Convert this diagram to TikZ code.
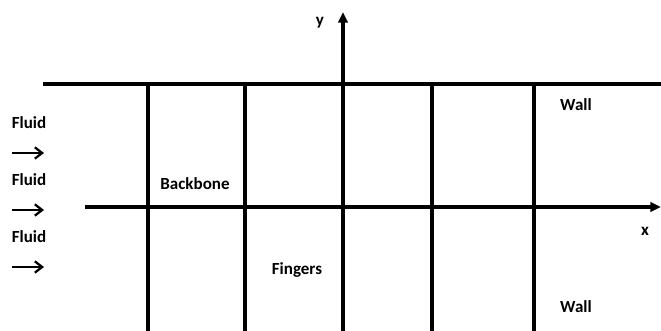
\documentclass[tikz,border=0pt]{standalone}
\usepackage{fontspec}
\setmainfont{Carlito}
\usetikzlibrary{arrows.meta}

\tikzset{
  lbl/.style={font=\fontsize{14.5}{16}\selectfont\bfseries, inner sep=0pt},
  wall/.style={line width=2.6pt},
  axis/.style={line width=2.6pt, -{Triangle[length=3.2mm, width=2.8mm]}},
  flow/.style={line width=1.9pt, -{Straight Barb[length=2.2mm, width=3.4mm]}}
}

\begin{document}
\begin{tikzpicture}[x=0.03cm, y=-0.03cm]
    \useasboundingbox (0,0) rectangle (661,331);
    % top wall and vertical fingers
    \draw[wall] (43,84) -- (661,84);
    \foreach \xf in {148,245,432,534}
        \draw[wall] (\xf,84) -- (\xf,331);
    % axes
    \coordinate (xs) at (85,207);
    \coordinate (xe) at (661,207);
    \coordinate (ys) at (343,331);
    \coordinate (ye) at (343,12);
    \draw[axis] (xs) -- (xe);
    \draw[axis] (ys) -- (ye);
    \node[lbl] (ylab) at (320,23) {y};
    \node[lbl] (xlab) at (645,231) {x};
    % inflow
    \foreach \yf/\nm in {123/a,180/b,237/c} {
        \node[lbl] (fluid\nm) at (29,\yf) {Fluid};
        \coordinate (fs\nm) at (12,\yf+30);
        \coordinate (fe\nm) at (44,\yf+30);
        \draw[flow] (fs\nm) -- (fe\nm);
    }
    \node[lbl] (backbone) at (195,184) {Backbone};
    \node[lbl] (fingers) at (297,270) {Fingers};
    \node[lbl] (walltop) at (576,105) {Wall};
    \node[lbl] (wallbot) at (576,307) {Wall};
\end{tikzpicture}
\end{document}
